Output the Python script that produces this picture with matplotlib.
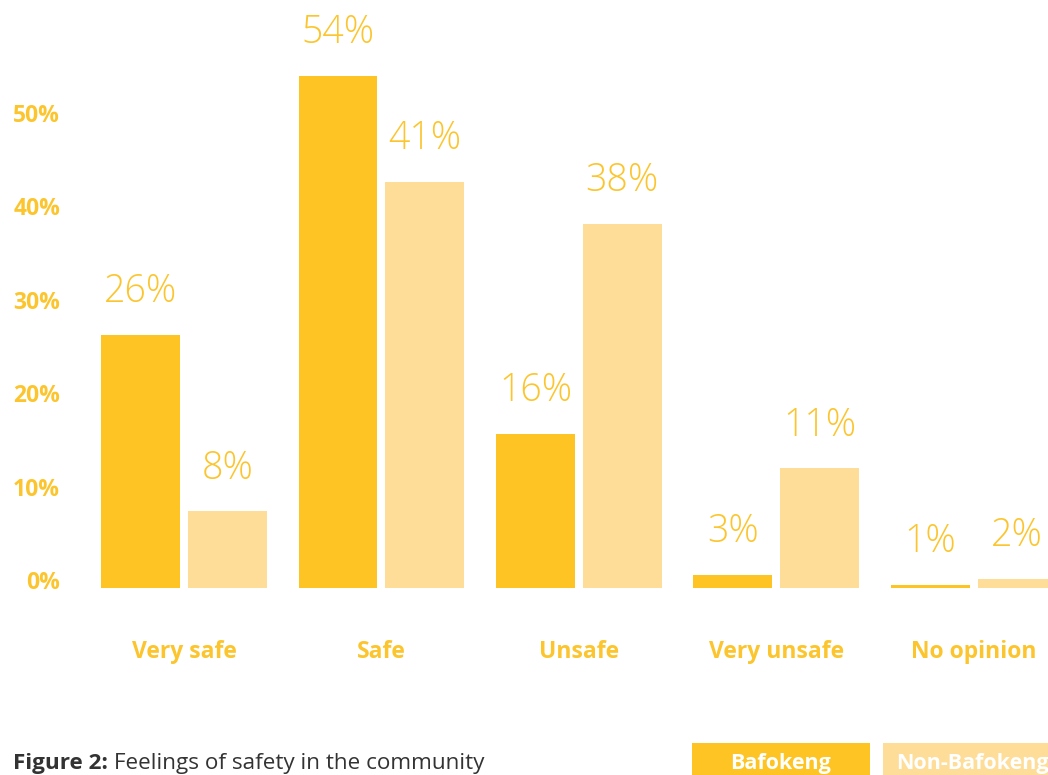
import matplotlib
matplotlib.use("Agg")
import matplotlib.pyplot as plt
from matplotlib.patches import Rectangle
import numpy as np

# ---- data ----
categories = ["Very safe", "Safe", "Unsafe", "Very unsafe", "No opinion"]
series_names = ["Bafokeng", "Non-Bafokeng"]
# bar heights as drawn in the picture (percent)
bafokeng = [27.1, 54.8, 16.5, 1.4, 0.3]
non_bafokeng = [8.2, 43.5, 39.0, 12.8, 1.0]
# printed value labels
bafokeng_labels = ["26%", "54%", "16%", "3%", "1%"]
non_bafokeng_labels = ["8%", "41%", "38%", "11%", "2%"]
y_ticks = [0, 10, 20, 30, 40, 50]
y_tick_labels = ["0%", "10%", "20%", "30%", "40%", "50%"]
caption_bold = "Figure 2:"
caption_text = " Feelings of safety in the community"

# ---- style ----
C_BAF = "#FDC424"
C_NON = "#FEDD99"
C_TXT = "#FCC52E"
C_CAP = "#333333"
W, H = 1048, 775
DPI = 100

plt.rcParams["font.family"] = ["Open Sans", "DejaVu Sans"]

fig = plt.figure(figsize=(W / DPI, H / DPI), dpi=DPI)
# axes: pixel x 80..1048, pixel y 0..600 (from top)
ax = fig.add_axes([80 / W, (H - 600) / H, (W - 80) / W, 600 / H])

x = np.arange(len(categories))
bw = 0.40
off = 0.22
b1 = ax.bar(x - off, bafokeng, width=bw, color=C_BAF)
b2 = ax.bar(x + off, non_bafokeng, width=bw, color=C_NON)

ax.set_xlim(-0.527, 4.377)
ax.set_ylim(-1.285, 62.96)

for rects, labs in ((b1, bafokeng_labels), (b2, non_bafokeng_labels)):
    for r, lab in zip(rects, labs):
        ax.annotate(lab, xy=(r.get_x() + r.get_width() / 2, r.get_height()),
                    xytext=(0, 43), textcoords="offset pixels",
                    ha="center", va="center", fontsize=27, color=C_TXT,
                    fontweight="light", annotation_clip=False)

for s in ax.spines.values():
    s.set_visible(False)
ax.set_yticks([])
ax.set_xticks(x)
ax.set_xticklabels(categories, fontsize=16.5, fontweight="bold", color=C_TXT)
ax.tick_params(axis="x", length=0, pad=29)

ytr = ax.get_yaxis_transform()
for v, lab in zip(y_ticks, y_tick_labels):
    ax.annotate(lab, xy=(0, v), xycoords=ytr, xytext=(-20, 5),
                textcoords="offset pixels", ha="right", va="center",
                fontsize=16.5, fontweight="bold", color=C_TXT,
                annotation_clip=False)

# caption
cap_y = (H - 764) / H
t1 = fig.text(13 / W, cap_y, caption_bold, fontsize=16.2,
              fontweight="bold", color=C_CAP, ha="left", va="center")
r = fig.canvas.get_renderer()
bb = t1.get_window_extent(renderer=r)
fig.text(bb.x1 / W, cap_y, caption_text, fontsize=16.2,
         color=C_CAP, ha="left", va="center")

# legend boxes
legend_boxes = [(692, 870, C_BAF), (883, 1061, C_NON)]
for (x0, x1, c), name in zip(legend_boxes, series_names):
    fig.add_artist(Rectangle((x0 / W, 0), (x1 - x0) / W, (H - 743) / H,
                             transform=fig.transFigure, color=c, lw=0))
    fig.text((x0 + x1) / 2 / W, cap_y, name, fontsize=15.5,
             fontweight="bold", color="white", ha="center", va="center")

fig.savefig("out.png", dpi=DPI)
